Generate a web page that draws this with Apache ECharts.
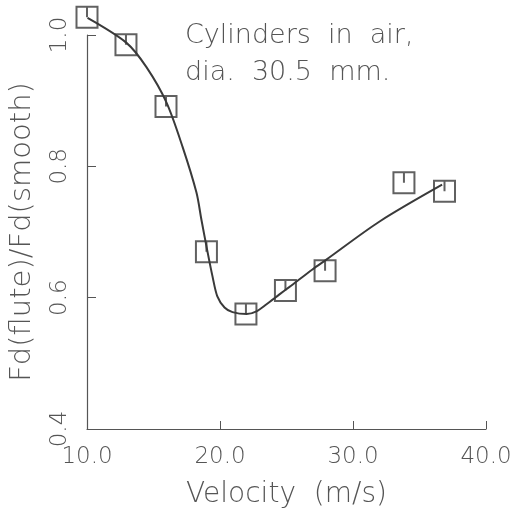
<!DOCTYPE html>
<html>
<head>
<meta charset="utf-8">
<script src="https://cdn.jsdelivr.net/npm/echarts@6/dist/echarts.min.js"></script>
<style>
  html, body { margin: 0; padding: 0; background: #fff; }
  #main { width: 515px; height: 514px; }
</style>
</head>
<body>
<div id="main"></div>
<script>
// measured points (velocity m/s, drag ratio)
const velocity = [10, 12.93, 15.94, 18.98, 21.95, 24.92, 27.9, 33.83, 36.88]
const ratio = [1.027, 0.985, 0.891, 0.670, 0.575, 0.611, 0.641, 0.775, 0.762]

// fitted curve
const curveX = [10.04, 12.97, 14.47, 15.98, 17.18, 18.23, 18.6, 19.06, 19.44, 19.8, 20.34, 20.94, 22.0, 22.74, 23.5, 24.47, 25.2, 26.95, 28.0, 32.0, 36.7]
const curveY = [1.026, 0.988, 0.951, 0.897, 0.830, 0.760, 0.719, 0.670, 0.632, 0.602, 0.585, 0.578, 0.575, 0.579, 0.590, 0.605, 0.616, 0.643, 0.658, 0.716, 0.772]

const xTicks = [10, 20, 30, 40]
const yTicks = [0.4, 0.6, 0.8, 1.0]

const ink = '#3a3a3a'
const textInk = '#555'
const font = 'DejaVu Sans'

const chart = echarts.init(document.getElementById('main'))

chart.setOption({
  animation: false,
  title: {
    text: 'Cylinders  in  air,\ndia.  30.5  mm.',
    left: 180,
    top: 12,
    textStyle: {
      fontFamily: font,
      fontWeight: 200,
      fontSize: 27,
      lineHeight: 37,
      color: textInk
    }
  },
  grid: { left: 87, right: 29, top: 35, bottom: 84 },
  xAxis: {
    type: 'value',
    min: xTicks[0],
    max: xTicks[xTicks.length - 1],
    interval: 10,
    name: 'Velocity  (m/s)',
    nameLocation: 'middle',
    nameGap: 52,
    nameTextStyle: { fontFamily: font, fontWeight: 200, fontSize: 28, color: textInk },
    axisLine: { lineStyle: { color: '#555', width: 1.2 } },
    axisTick: { inside: true, length: 8, lineStyle: { color: '#555' } },
    splitLine: { show: false },
    axisLabel: {
      margin: 17,
      fontFamily: font,
      fontWeight: 200,
      fontSize: 23,
      color: textInk,
      formatter: v => v.toFixed(1)
    }
  },
  yAxis: {
    type: 'value',
    min: yTicks[0],
    max: yTicks[yTicks.length - 1],
    interval: 0.2,
    name: 'Fd(flute)/Fd(smooth)',
    nameLocation: 'middle',
    nameRotate: 90,
    nameGap: 50,
    nameTextStyle: { fontFamily: font, fontWeight: 200, fontSize: 29, color: textInk },
    axisLine: { show: true, lineStyle: { color: '#555', width: 1.2 } },
    axisTick: { inside: true, length: 9, lineStyle: { color: '#555' } },
    splitLine: { show: false },
    axisLabel: {
      rotate: 90,
      margin: 15,
      fontFamily: font,
      fontWeight: 200,
      fontSize: 23,
      color: textInk,
      formatter: v => v.toFixed(1)
    }
  },
  series: [
    {
      type: 'line',
      data: curveX.map((x, i) => [x, curveY[i]]),
      smooth: 0.3,
      clip: false,
      showSymbol: false,
      lineStyle: { color: ink, width: 2 },
      z: 2
    },
    {
      type: 'scatter',
      data: velocity.map((x, i) => [x, ratio[i]]),
      symbol: 'path://M0,0H20V20H0ZM10,0V10',
      symbolSize: 21,
      clip: false,
      itemStyle: { color: 'rgba(0,0,0,0)', borderColor: ink, borderWidth: 2 },
      z: 3
    }
  ]
})
</script>
</body>
</html>
